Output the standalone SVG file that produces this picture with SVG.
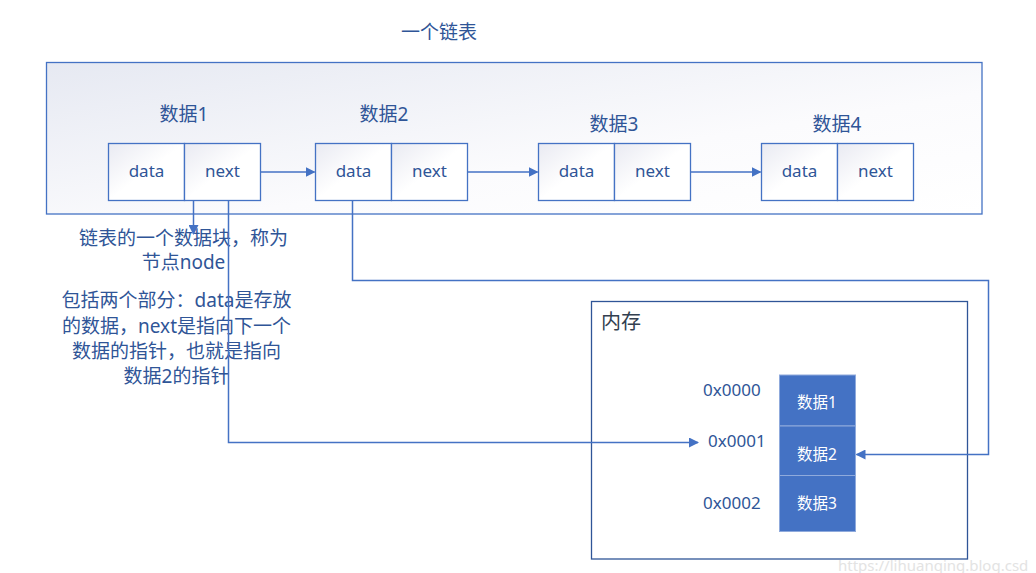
<svg xmlns="http://www.w3.org/2000/svg" width="1036" height="573" viewBox="0 0 1036 573">
<style>
text{font-family:"Noto Sans","Noto Sans CJK SC",sans-serif;fill:#2F5597}
.lbl{font-size:19px;text-anchor:middle}
.cell{stroke:#4472C4;stroke-width:1.3;fill:url(#cg)}
.ct{font-size:17px;text-anchor:middle}
.ln{fill:none;stroke:#4472C4;stroke-width:1.5}
.note{font-size:19px;text-anchor:middle}
.addr{font-size:17px}
.mem{fill:#4472C4;stroke:#8FAADC;stroke-width:1}
.mt{font-size:15.5px;text-anchor:middle;fill:#FFFFFF}
</style>
<defs>
<linearGradient id="bg" x1="0" y1="0" x2="1" y2="1">
<stop offset="0" stop-color="#E6E9F2"/><stop offset="0.6" stop-color="#FBFBFD"/><stop offset="1" stop-color="#FFFFFF"/>
</linearGradient>
<linearGradient id="cg" x1="0" y1="0" x2="1" y2="1">
<stop offset="0" stop-color="#E9EAF2"/><stop offset="0.5" stop-color="#FFFFFF"/><stop offset="1" stop-color="#FFFFFF"/>
</linearGradient>
<marker id="ah" markerWidth="10" markerHeight="10" refX="9" refY="5" orient="auto" markerUnits="userSpaceOnUse">
<path d="M0,0 L10,5 L0,10 Z" fill="#4472C4"/>
</marker>
</defs>
<rect width="1036" height="573" fill="#FFFFFF"/>
<text x="439" y="39" class="lbl">一个链表</text>
<g id="list-container">
<rect x="46.5" y="62.5" width="935.5" height="151.5" fill="url(#bg)" stroke="#4472C4" stroke-width="1.3"/>
</g>
<g id="node1">
<text x="184" y="121" class="lbl">数据1</text>
<rect x="108.5" y="143.5" width="76" height="57" class="cell"/>
<rect x="184.5" y="143.5" width="76" height="57" class="cell"/>
<text x="146.5" y="177" class="ct">data</text>
<text x="222.5" y="177" class="ct">next</text>
</g>
<g id="node2">
<text x="384" y="121" class="lbl">数据2</text>
<rect x="315.5" y="143.5" width="76" height="57" class="cell"/>
<rect x="391.5" y="143.5" width="76" height="57" class="cell"/>
<text x="353.5" y="177" class="ct">data</text>
<text x="429.5" y="177" class="ct">next</text>
</g>
<g id="node3">
<text x="614" y="131" class="lbl">数据3</text>
<rect x="538.5" y="143.5" width="76" height="57" class="cell"/>
<rect x="614.5" y="143.5" width="76" height="57" class="cell"/>
<text x="576.5" y="177" class="ct">data</text>
<text x="652.5" y="177" class="ct">next</text>
</g>
<g id="node4">
<text x="837" y="131" class="lbl">数据4</text>
<rect x="761.5" y="143.5" width="76" height="57" class="cell"/>
<rect x="837.5" y="143.5" width="76" height="57" class="cell"/>
<text x="799.5" y="177" class="ct">data</text>
<text x="875.5" y="177" class="ct">next</text>
</g>
<g id="note">
<text class="note" x="183.5" y="245">链表的一个数据块，称为</text>
<text class="note" x="183.5" y="269">节点node</text>
<text class="note" x="176.5" y="307">包括两个部分：data是存放</text>
<text class="note" x="176.5" y="333">的数据，next是指向下一个</text>
<text class="note" x="176.5" y="358">数据的指针，也就是指向</text>
<text class="note" x="176.5" y="383">数据2的指针</text>
</g>
<g id="memory">
<rect x="591.5" y="301.5" width="376" height="257.5" fill="#FFFFFF" stroke="#2F5597" stroke-width="1.3"/>
<text x="601" y="329" style="font-size:20px;fill:#333F50">内存</text>
<text class="addr" x="703" y="396">0x0000</text>
<text class="addr" x="708" y="447">0x0001</text>
<text class="addr" x="703" y="509">0x0002</text>
<rect class="mem" x="779.5" y="375" width="76" height="51"/>
<rect class="mem" x="779.5" y="426" width="76" height="49.5"/>
<rect class="mem" x="779.5" y="475.5" width="76" height="56"/>
<text class="mt" x="817" y="408">数据1</text>
<text class="mt" x="817" y="460">数据2</text>
<text class="mt" x="817" y="509">数据3</text>
</g>
<g id="connectors">
<path class="ln" d="M260.5,172 H314.5" marker-end="url(#ah)"/>
<path class="ln" d="M467.5,172 H537.5" marker-end="url(#ah)"/>
<path class="ln" d="M690.5,172 H760.5" marker-end="url(#ah)"/>
<path class="ln" d="M193.5,200.5 V234" marker-end="url(#ah)"/>
<path class="ln" d="M228.5,200.5 V442.5 H698" marker-end="url(#ah)"/>
<path class="ln" d="M352.5,200.5 V280.5 H988.5 V454.5 H856.5" marker-end="url(#ah)"/>
</g>
<text x="838" y="571" style="font-size:15px;fill:#E3E3E3">https://lihuanqing.blog.csd</text>
</svg>
